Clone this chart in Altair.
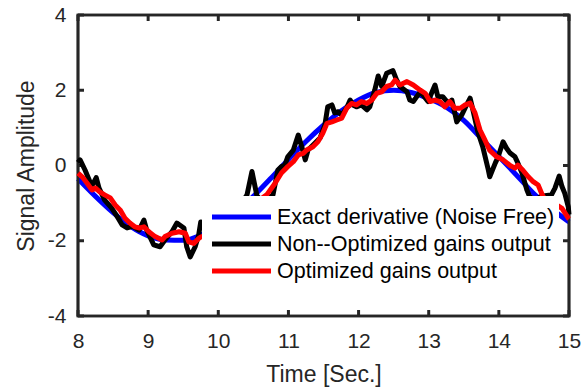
import altair as alt
import pandas as pd

SERIES = ["Exact derivative (Noise Free)", "Non--Optimized gains output", "Optimized gains output"]
COLORS = ["#0000ff", "#000000", "#ff0000"]

X_TICKS = [8, 9, 10, 11, 12, 13, 14, 15]
Y_TICKS = [-4, -2, 0, 2, 4]

# Exact derivative (noise free)
T_EXACT = [8.0, 8.25, 8.5, 8.75, 9.0, 9.25, 9.5, 9.75, 10.0, 10.25, 10.5, 10.75, 11.0, 11.25,
           11.5, 11.75, 12.0, 12.25, 12.5, 12.75, 13.0, 13.25, 13.5, 13.75, 14.0, 14.25, 14.5,
           14.75, 15.0]
V_EXACT = [-0.35, -0.82, -1.25, -1.62, -1.87, -1.98, -1.99, -1.85, -1.6, -1.25, -0.82, -0.34,
           0.16, 0.64, 1.07, 1.45, 1.74, 1.94, 2.0, 1.94, 1.78, 1.55, 1.2, 0.72, 0.24, -0.25,
           -0.75, -1.15, -1.5]

# Non-optimized gains output
T_NONOPT = [8.00, 8.03, 8.10, 8.17, 8.21, 8.26, 8.30, 8.38, 8.48, 8.56, 8.63, 8.70, 8.78, 8.87,
            8.94, 8.98, 9.08, 9.17, 9.24, 9.34, 9.41, 9.51, 9.55, 9.60, 9.67, 9.72, 9.75, 9.85,
            9.95, 10.05, 10.15, 10.25, 10.35, 10.41, 10.48, 10.55, 10.62, 10.70, 10.78, 10.85,
            10.90, 10.95, 10.99, 11.07, 11.14, 11.19, 11.24, 11.28, 11.38, 11.45, 11.52, 11.56,
            11.62, 11.66, 11.71, 11.76, 11.83, 11.88, 11.92, 11.97, 12.04, 12.12, 12.16, 12.23,
            12.28, 12.33, 12.40, 12.45, 12.49, 12.54, 12.59, 12.69, 12.73, 12.78, 12.83, 12.88,
            12.92, 12.99, 13.09, 13.13, 13.20, 13.28, 13.33, 13.40, 13.47, 13.54, 13.59, 13.63,
            13.70, 13.77, 13.85, 13.87, 13.95, 13.99, 14.06, 14.11, 14.16, 14.23, 14.27, 14.33,
            14.40, 14.44, 14.52, 14.60, 14.68, 14.75, 14.80, 14.86, 14.90, 14.94, 14.99, 15.00]
V_NONOPT = [0.08, 0.15, -0.12, -0.43, -0.5, -0.32, -0.6, -0.92, -1.13, -1.36, -1.58, -1.66, -1.62,
            -1.72, -1.45, -1.72, -2.11, -2.16, -1.98, -1.76, -1.53, -1.66, -2.16, -2.43, -2.16,
            -1.85, -1.5, -1.75, -1.55, -1.45, -1.35, -1.15, -0.95, -0.78, -0.16, -0.8, -0.95,
            -0.85, -0.78, -0.12, -0.03, 0.01, 0.23, 0.41, 0.81, 0.5, 0.15, 0.41, 0.6, 0.73, 1.08,
            1.56, 1.61, 1.4, 1.43, 1.34, 1.53, 1.74, 1.61, 1.56, 1.61, 1.48, 1.56, 2.0, 2.38, 2.1,
            2.45, 2.49, 2.52, 2.28, 2.1, 1.96, 1.74, 1.7, 1.83, 1.96, 1.87, 1.7, 2.14, 1.83, 1.83,
            1.65, 1.74, 1.16, 1.34, 1.61, 1.79, 1.48, 0.9, 0.5, -0.12, -0.3, 0.07, 0.23, 0.63,
            0.46, 0.33, 0.23, 0.07, -0.2, -0.65, -0.83, -0.92, -0.82, -0.8, -0.78, -0.6, -0.28,
            -0.56, -0.74, -1.1, -1.3]

# Optimized gains output
T_OPT = [8.00, 8.06, 8.13, 8.20, 8.25, 8.31, 8.38, 8.46, 8.53, 8.60, 8.67, 8.74, 8.81, 8.88,
         8.94, 9.01, 9.10, 9.20, 9.24, 9.34, 9.44, 9.53, 9.58, 9.65, 9.72, 9.75, 9.90, 10.05,
         10.20, 10.35, 10.50, 10.60, 10.69, 10.81, 10.90, 10.99, 11.07, 11.14, 11.21, 11.26,
         11.35, 11.42, 11.49, 11.55, 11.62, 11.69, 11.76, 11.83, 11.90, 11.97, 12.04, 12.12,
         12.19, 12.26, 12.33, 12.40, 12.47, 12.52, 12.59, 12.69, 12.78, 12.88, 12.95, 13.02,
         13.09, 13.16, 13.23, 13.30, 13.37, 13.45, 13.52, 13.59, 13.66, 13.73, 13.80, 13.87,
         13.97, 14.06, 14.16, 14.23, 14.27, 14.34, 14.42, 14.49, 14.56, 14.63, 14.75, 14.85,
         14.90, 14.99, 15.00]
V_OPT = [-0.2, -0.3, -0.47, -0.65, -0.6, -0.7, -0.78, -0.86, -1.05, -1.18, -1.4, -1.53, -1.63,
         -1.66, -1.63, -1.76, -1.89, -1.98, -1.89, -1.8, -1.76, -1.8, -2.03, -2.07, -1.94, -1.9,
         -1.8, -1.62, -1.38, -1.15, -0.98, -0.9, -0.78, -0.47, -0.2, -0.03, 0.1, 0.28, 0.32, 0.41,
         0.5, 0.63, 0.86, 1.12, 1.16, 1.21, 1.26, 1.52, 1.65, 1.61, 1.7, 1.65, 1.74, 1.92, 1.96,
         2.1, 2.14, 2.27, 2.14, 2.23, 2.14, 2.0, 1.92, 1.7, 1.74, 1.7, 1.56, 1.7, 1.52, 1.52,
         1.61, 1.66, 1.4, 0.95, 0.68, 0.4, 0.23, 0.15, 0.0, -0.07, 0.01, -0.12, -0.3, -0.43,
         -0.52, -0.83, -1.0, -1.08, -1.14, -1.4, -1.42]

FONT = "Liberation Sans"
AX = "#262626"
W, H = 491, 301

df_exact = pd.DataFrame({"t": T_EXACT, "v": V_EXACT})
df_non = pd.DataFrame({"t": T_NONOPT, "v": V_NONOPT})
df_opt = pd.DataFrame({"t": T_OPT, "v": V_OPT})
df_xt = pd.DataFrame({"t": X_TICKS})
df_yt = pd.DataFrame({"v": Y_TICKS})

xscale = alt.Scale(domain=[8, 15], nice=False, zero=False)
yscale = alt.Scale(domain=[-4, 4], nice=False, zero=False)

no_guides = dict(ticks=False, tickSize=0, domain=False, grid=False)

x_axis = alt.Axis(orient="bottom", values=X_TICKS, labelExpr="'' + datum.value",
                  labelFont=FONT, labelFontSize=21, labelColor=AX, labelPadding=14,
                  labelFlush=False, labelOverlap=False, title="Time [Sec.]",
                  titleFont=FONT, titleFontSize=23, titleFontWeight="normal", titleColor=AX,
                  titleBaseline="alphabetic", titleX=W / 2, titleY=65, **no_guides)
y_axis = alt.Axis(orient="left", values=Y_TICKS, labelExpr="'' + datum.value",
                  labelFont=FONT, labelFontSize=21, labelColor=AX, labelPadding=12,
                  labelBaseline="middle", labelFlush=False, labelOverlap=False,
                  title="Signal Amplitude", titleFont=FONT, titleFontSize=23,
                  titleFontWeight="normal", titleColor=AX, titleBaseline="alphabetic",
                  titleAngle=270, titleX=-44.5, titleY=H / 2, **no_guides)

X_ENC = alt.X("t:Q", scale=xscale, axis=x_axis)
Y_ENC = alt.Y("v:Q", scale=yscale, axis=y_axis)

one = pd.DataFrame({"k": [0]})

# axes box
frame = alt.Chart(one).mark_rect(filled=False, color=AX, strokeWidth=2.7).encode(
    x=alt.value(0), x2=alt.value(W), y=alt.value(0), y2=alt.value(H))

# inward tick marks at the tick values, placed through the shared scales
tick_style = dict(color=AX, strokeWidth=3, strokeCap="butt")
xt_bottom = alt.Chart(df_xt).mark_rule(**tick_style).encode(
    x=X_ENC, y=alt.value(H - 6), y2=alt.value(H))
xt_top = alt.Chart(df_xt).mark_rule(**tick_style).encode(
    x=X_ENC, y=alt.value(0), y2=alt.value(6))
yt_left = alt.Chart(df_yt).mark_rule(**tick_style).encode(
    y=Y_ENC, x=alt.value(0), x2=alt.value(6))
yt_right = alt.Chart(df_yt).mark_rule(**tick_style).encode(
    y=Y_ENC, x=alt.value(W - 6), x2=alt.value(W))

line_style = dict(strokeWidth=5, strokeJoin="round", strokeCap="butt")

blue = alt.Chart(df_exact).mark_line(interpolate="monotone", color=COLORS[0], **line_style).encode(
    x=X_ENC, y=Y_ENC)
black = alt.Chart(df_non).mark_line(color=COLORS[1], **line_style).encode(x=X_ENC, y=Y_ENC)
red = alt.Chart(df_opt).mark_line(color=COLORS[2], **line_style).encode(x=X_ENC, y=Y_ENC)

# legend box (opaque white, no border) with line samples and labels
LEG_ROWS = [202, 229, 256]
leg_layers = [alt.Chart(one).mark_rect(fill="white").encode(
    x=alt.value(124), x2=alt.value(481), y=alt.value(181), y2=alt.value(277))]
for label, color, yc in zip(SERIES, COLORS, LEG_ROWS):
    row = pd.DataFrame({"label": [label]})
    leg_layers.append(
        alt.Chart(row).mark_rule(color=color, strokeWidth=5, strokeCap="butt").encode(
            x=alt.value(134), x2=alt.value(193), y=alt.value(yc)))
    leg_layers.append(
        alt.Chart(row).mark_text(align="left", baseline="middle", font=FONT, fontSize=21.5,
                                 color="#000000").encode(
            x=alt.value(199), y=alt.value(yc + 1), text=alt.Text("label:N")))

chart = alt.layer(blue, frame, xt_bottom, xt_top, yt_left, yt_right, black, red,
                  *leg_layers).properties(
    width=W, height=H,
    autosize=alt.AutoSizeParams(type="none"),
    padding={"left": 78, "top": 15, "right": 16, "bottom": 76},
).configure_view(stroke=AX, strokeWidth=2.7)

chart.save("out.html", embed_options={"renderer": "svg", "actions": False})
